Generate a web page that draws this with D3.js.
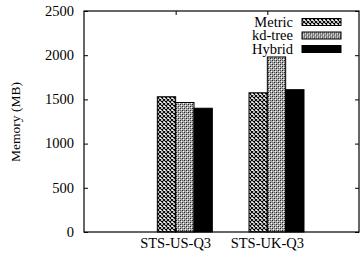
<!DOCTYPE html>
<meta charset="utf-8">
<style>
  body { margin: 0; background: #fff; }
</style>
<div id="chart"></div>
<script src="https://cdn.jsdelivr.net/npm/d3@7"></script>
<script>

var categories = ["STS-US-Q3", "STS-UK-Q3"]
var seriesNames = ["Metric", "kd-tree", "Hybrid"]
var metric = [1530, 1575]
var kdtree = [1465, 1980]
var hybrid = [1400, 1610]
var yTicks = [0, 500, 1000, 1500, 2000, 2500]

var series = [metric, kdtree, hybrid]
var fills = ["url(#pMetric)", "url(#pKd)", "#000"]

var width = 361,
    height = 259,
    mLeft = 84, mRight = 359, mTop = 11, mBottom = 232

var svg = d3.select("#chart").append("svg")
    .attr("width", width)
    .attr("height", height)
    .style("font-family", "'Liberation Serif', 'Times New Roman', serif")
    .style("font-size", "14.5px")

// fill patterns
var defs = svg.append("defs")
var p1 = defs.append("pattern").attr("id", "pMetric")
    .attr("patternUnits", "userSpaceOnUse").attr("width", 4).attr("height", 4)
p1.append("rect").attr("width", 4).attr("height", 4).attr("fill", "#fff")
p1.append("path").attr("d", "M0,0L4,4M4,0L0,4").attr("stroke", "#000").attr("stroke-width", 1.1)

var p2 = defs.append("pattern").attr("id", "pKd")
    .attr("patternUnits", "userSpaceOnUse").attr("width", 4).attr("height", 4)
p2.append("rect").attr("width", 4).attr("height", 4).attr("fill", "#aaa")
p2.append("rect").attr("x", 0).attr("y", 0).attr("width", 1).attr("height", 1).attr("fill", "#222")
p2.append("rect").attr("x", 2).attr("y", 2).attr("width", 1).attr("height", 1).attr("fill", "#222")
p2.append("rect").attr("x", 2).attr("y", 0).attr("width", 1).attr("height", 1).attr("fill", "#666")
p2.append("rect").attr("x", 0).attr("y", 2).attr("width", 1).attr("height", 1).attr("fill", "#666")
p2.append("rect").attr("x", 1).attr("y", 1).attr("width", 1).attr("height", 1).attr("fill", "#fff")
p2.append("rect").attr("x", 3).attr("y", 3).attr("width", 1).attr("height", 1).attr("fill", "#fff")

var x = d3.scaleLinear().domain([-1, 2]).range([mLeft, mRight])
var y = d3.scaleLinear().domain([0, 2500]).range([mBottom, mTop])
var bw = x(0.2) - x(0)

// bars
series.forEach(function(vals, j) {
  svg.append("g").selectAll("rect")
    .data(vals)
    .enter().append("rect")
      .attr("x", function(d, i) { return x(i - 0.2 + 0.2 * j) })
      .attr("y", function(d) { return y(d) })
      .attr("width", bw)
      .attr("height", function(d) { return y(0) - y(d) })
      .attr("fill", fills[j])
      .attr("stroke", "#000")
      .attr("stroke-width", 1)
})

// axes
svg.append("g").attr("transform", "translate(" + mLeft + ",0)")
  .call(d3.axisRight(y).tickValues(yTicks).tickSize(4).tickFormat(""))
svg.append("g").attr("transform", "translate(" + mRight + ",0)")
  .call(d3.axisLeft(y).tickValues(yTicks).tickSize(4).tickFormat(""))
svg.append("g").attr("transform", "translate(0," + mTop + ")")
  .call(d3.axisBottom(x).tickValues([0, 1]).tickSize(4).tickFormat(""))
svg.append("g").attr("transform", "translate(0," + mBottom + ")")
  .call(d3.axisTop(x).tickValues([0, 1]).tickSize(4).tickFormat(""))
svg.selectAll(".domain").remove()
svg.selectAll(".tick line").attr("stroke", "#000")
svg.selectAll(".tick text").remove()

svg.append("rect")
    .attr("x", mLeft).attr("y", mTop)
    .attr("width", mRight - mLeft).attr("height", mBottom - mTop)
    .attr("fill", "none").attr("stroke", "#000").attr("stroke-width", 1.2)

// tick labels
svg.append("g").selectAll("text")
  .data(yTicks)
  .enter().append("text")
    .attr("x", 74)
    .attr("y", function(d) { return y(d) + 4.8 })
    .attr("text-anchor", "end")
    .text(function(d) { return d })

svg.append("g").selectAll("text")
  .data(categories)
  .enter().append("text")
    .attr("x", function(d, i) { return x(i) })
    .attr("y", 248)
    .attr("text-anchor", "middle")
    .text(function(d) { return d })

svg.append("text")
    .attr("transform", "translate(20,122) rotate(-90)")
    .attr("text-anchor", "middle")
    .style("font-size", "13.5px")
    .text("Memory (MB)")

// legend
var leg = svg.append("g").selectAll("g")
  .data(seriesNames)
  .enter().append("g")
    .attr("transform", function(d, i) { return "translate(0," + (22 + 13.5 * i) + ")" })
leg.append("text")
    .attr("x", 293).attr("y", 4.8)
    .attr("text-anchor", "end")
    .text(function(d) { return d })
leg.append("rect")
    .attr("x", 302).attr("y", -3.5)
    .attr("width", 39).attr("height", 7)
    .attr("fill", function(d, i) { return fills[i] })
    .attr("stroke", "#000")

</script>
